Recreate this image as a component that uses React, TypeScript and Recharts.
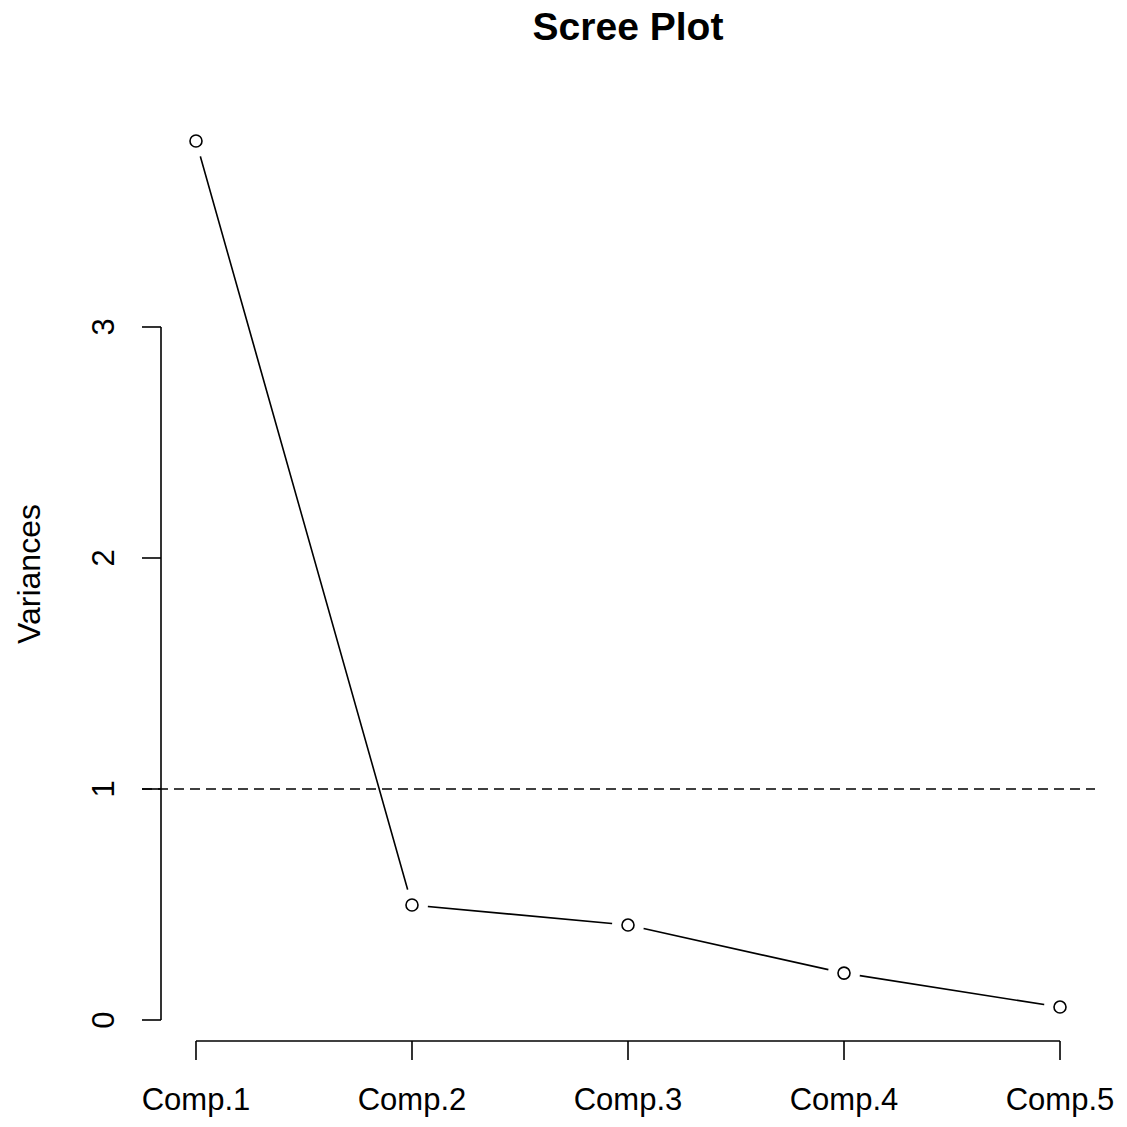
import { LineChart, Line, XAxis, YAxis, ReferenceLine } from 'recharts'

// principal components and their variances
const components = ['Comp.1', 'Comp.2', 'Comp.3', 'Comp.4', 'Comp.5']
const variances = [3.805, 0.498, 0.411, 0.203, 0.056]
const yTicks = [0, 1, 2, 3]
const cutoff = 1

const data = components.map((name, i) => ({ x: i + 1, name, v: variances[i] }))

const X_DOMAIN: [number, number] = [0.838, 5.162]
const Y_DOMAIN: [number, number] = [-0.0909, 3.961]
const FONT = '"Liberation Sans", Arial, sans-serif'

// open circle with a white halo so the line stops short of each point
const PointDot = (props: any) => {
  const { cx, cy } = props
  if (cx == null || cy == null) return null
  return (
    <g>
      <circle cx={cx} cy={cy} r={16} fill="#fff" stroke="none" />
      <circle cx={cx} cy={cy} r={6} fill="#fff" stroke="#000" strokeWidth={1.6} />
    </g>
  )
}

const XTick = (props: any) => {
  const { x, y, payload } = props
  return (
    <text x={x} y={y + 48} textAnchor="middle" fontSize={31} fontFamily={FONT} fill="#000">
      {components[payload.value - 1]}
    </text>
  )
}

const YTick = (props: any) => {
  const { y, payload } = props
  return (
    <text transform={`translate(114, ${y}) rotate(-90)`} textAnchor="middle"
      fontSize={31} fontFamily={FONT} fill="#000">
      {payload.value}
    </text>
  )
}

export default function App() {
  return (
    <div style={{ position: 'absolute', left: 0, top: 0, width: 1127, height: 1127, background: '#fff' }}>
      <svg width={1127} height={1127} style={{ position: 'absolute', left: 0, top: 0 }}>
        <text x={628} y={40} textAnchor="middle" fontSize={39} fontWeight="bold" fontFamily={FONT} fill="#000">
          Scree Plot
        </text>
        <text transform="translate(40, 574) rotate(-90)" textAnchor="middle" fontSize={32} fontFamily={FONT} fill="#000">
          Variances
        </text>
      </svg>
      <div style={{ position: 'absolute', left: 0, top: 0 }}>
        <LineChart width={1127} height={1127} data={data}
          margin={{ top: 105, right: 32, bottom: 0, left: 0 }}>
          <XAxis dataKey="x" type="number" domain={X_DOMAIN} ticks={[1, 2, 3, 4, 5]}
            allowDataOverflow axisLine={false} tickSize={19} height={86}
            tickLine={{ stroke: '#000', strokeWidth: 1.6 }} tick={<XTick />} />
          <YAxis type="number" domain={Y_DOMAIN} ticks={yTicks} allowDataOverflow
            axisLine={false} tickSize={19} width={161}
            tickLine={{ stroke: '#000', strokeWidth: 1.6 }} tick={<YTick />} />
          {/* axis lines span only the tick range */}
          <ReferenceLine segment={[{ x: X_DOMAIN[0], y: 0 }, { x: X_DOMAIN[0], y: 3 }]}
            stroke="#000" strokeWidth={1.6} ifOverflow="visible" />
          <ReferenceLine segment={[{ x: 1, y: Y_DOMAIN[0] }, { x: 5, y: Y_DOMAIN[0] }]}
            stroke="#000" strokeWidth={1.6} ifOverflow="visible" />
          <ReferenceLine segment={[{ x: 0.75, y: cutoff }, { x: X_DOMAIN[1], y: cutoff }]}
            stroke="#000" strokeWidth={1.6} strokeDasharray="10 6" ifOverflow="visible" />
          <Line dataKey="v" type="linear" stroke="#000" strokeWidth={1.6}
            dot={<PointDot />} activeDot={false} isAnimationActive={false} />
        </LineChart>
      </div>
    </div>
  )
}
